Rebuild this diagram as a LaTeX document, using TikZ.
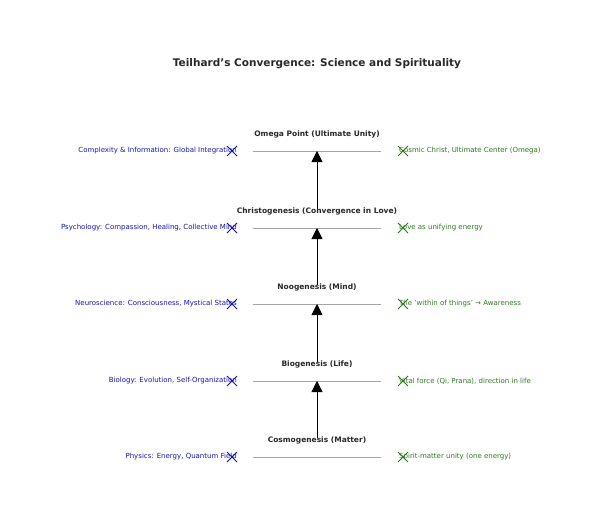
\documentclass[tikz,border=0pt]{standalone}
\usepackage{fontspec}
\setmainfont{DejaVu Sans}
\definecolor{sciblue}{RGB}{20,20,180}
\definecolor{spigreen}{RGB}{45,120,30}
\definecolor{titlegray}{RGB}{40,40,40}
\usetikzlibrary{arrows.meta}
\tikzset{
  lvl/.style={font=\bfseries\fontsize{7.5}{9}\selectfont, text=titlegray},
  sci/.style={font=\fontsize{7}{8}\selectfont, text=sciblue, anchor=east, inner sep=0},
  spi/.style={font=\fontsize{7}{8}\selectfont, text=spigreen, anchor=west, inner sep=0},
  xmark/.style={line width=0.9pt},
  rise/.style={-{Triangle[length=11pt,width=11pt]}, thick}
}
\begin{document}
\begin{tikzpicture}[x=1pt,y=-1pt]
\useasboundingbox (0,0) rectangle (607,522);
\node[font=\bfseries\fontsize{10.5}{12}\selectfont, text=titlegray] (title) at (317,64) {Teilhard’s Convergence: Science and Spirituality};
\foreach \i/\y/\lvlname/\scitext/\spitext in {
  1/457/{Cosmogenesis (Matter)}/{Physics: Energy, Quantum Field}/{Spirit-matter unity (one energy)},
  2/381/{Biogenesis (Life)}/{Biology: Evolution, Self-Organization}/{Vital force (Qi, Prana), direction in life},
  3/304/{Noogenesis (Mind)}/{Neuroscience: Consciousness, Mystical States}/{The 'within of things' → Awareness},
  4/228/{Christogenesis (Convergence in Love)}/{Psychology: Compassion, Healing, Collective Mind}/{Love as unifying energy},
  5/151/{Omega Point (Ultimate Unity)}/{Complexity \& Information: Global Integration}/{Cosmic Christ, Ultimate Center (Omega)}}
{
\coordinate (c\i) at (317,\y);
\draw[gray!70, line width=0.8pt] (253,\y) -- (381,\y);
\node[lvl] (l\i) at (317,\y-17) {\lvlname};
\node[sci] (s\i) at (237,\y) {\scitext};
\node[spi] (p\i) at (399,\y) {\spitext};
% markers
\draw[xmark, sciblue] (227,\y-5) -- (237,\y+5) (227,\y+5) -- (237,\y-5);
\draw[xmark, spigreen] (398,\y-5) -- (408,\y+5) (398,\y+5) -- (408,\y-5);
}
\foreach \i/\j in {1/2,2/3,3/4,4/5}
  \draw[rise, shorten <=19pt] (c\i) -- (c\j);
\end{tikzpicture}
\end{document}
